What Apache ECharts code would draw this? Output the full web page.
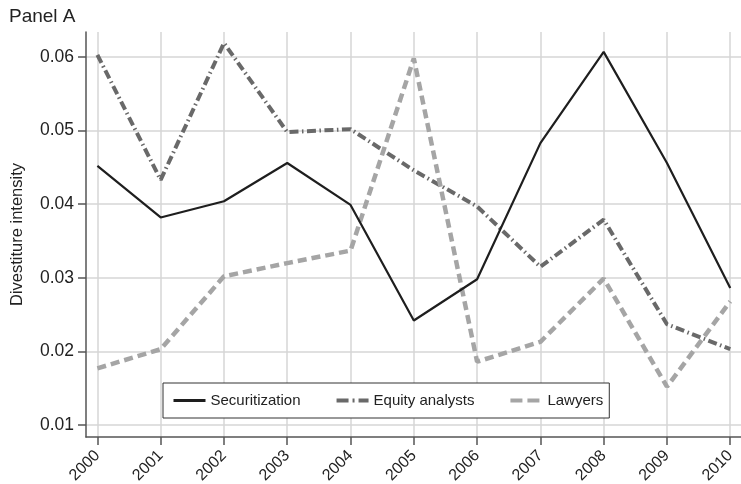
<!DOCTYPE html>
<html>
<head>
<meta charset="utf-8">
<title>Panel A</title>
<script src="https://cdn.jsdelivr.net/npm/echarts@6/dist/echarts.min.js"></script>
<style>
  html, body { margin: 0; padding: 0; background: #fff; }
  #main { width: 741px; height: 484px; }
</style>
</head>
<body>
<div id="main"></div>
<script>
// years on the x axis
var years = [2000, 2001, 2002, 2003, 2004, 2005, 2006, 2007, 2008, 2009, 2010];
var yTicks = [0.01, 0.02, 0.03, 0.04, 0.05, 0.06];

// divestiture intensity
var securitization = [0.0452, 0.0382, 0.0404, 0.0456, 0.0399, 0.0242, 0.0298, 0.0483, 0.0607, 0.0456, 0.0286];
var equityAnalysts = [0.0603, 0.0433, 0.0619, 0.0498, 0.0502, 0.0446, 0.0397, 0.0315, 0.0379, 0.0237, 0.0203];
var lawyers        = [0.0177, 0.0203, 0.0302, 0.0320, 0.0337, 0.0598, 0.0186, 0.0213, 0.0299, 0.0152, 0.0268];

function pairs(vals) {
  return years.map(function (y, i) { return [y, vals[i]]; });
}

var font = 'Liberation Sans, Arial, sans-serif';
var axisGrey = '#555';
var gridGrey = '#d6d6d6';

var chart = echarts.init(document.getElementById('main'));
chart.setOption({
  animation: false,
  backgroundColor: '#fff',
  title: {
    text: 'Panel A',
    left: 4, top: 2,
    textStyle: { fontFamily: font, fontSize: 19, fontWeight: 'normal', color: '#222' }
  },
  grid: { left: 86, right: 0, top: 32, bottom: 47, containLabel: false, outerBoundsMode: 'none' },
  legend: {
    left: 163, top: 383,
    padding: [10, 6, 10, 9],
    backgroundColor: '#fff',
    borderColor: '#333', borderWidth: 1,
    itemWidth: 32, itemHeight: 14, itemGap: 34,
    itemStyle: { opacity: 0 },
    textStyle: { fontFamily: font, fontSize: 15, color: '#222' },
    data: [
      { name: 'Securitization', lineStyle: { width: 3 } },
      { name: 'Equity analysts', lineStyle: { width: 4, type: [12, 4, 2, 4] } },
      { name: 'Lawyers', lineStyle: { width: 4, type: [12, 5] } }
    ]
  },
  xAxis: {
    type: 'value',
    min: 1999.82, max: 2010.17,
    axisLine: { show: true, onZero: false, lineStyle: { color: axisGrey, width: 1.5 } },
    axisTick: { show: true, length: 8, customValues: years, lineStyle: { color: axisGrey, width: 1.5 } },
    axisLabel: {
      customValues: years, rotate: 45, margin: 16,
      fontFamily: font, fontSize: 16, color: '#222',
      formatter: function (v) { return String(v); }
    },
    splitLine: { show: true, lineStyle: { color: gridGrey, width: 1.5 } }
  },
  yAxis: {
    type: 'value',
    min: 0.00837, max: 0.0634,
    name: 'Divestiture intensity',
    nameLocation: 'middle', nameGap: 60,
    nameTextStyle: { fontFamily: font, fontSize: 16.5, color: '#222' },
    axisLine: { show: true, lineStyle: { color: axisGrey, width: 1.5 } },
    axisTick: { show: true, length: 8, customValues: yTicks, lineStyle: { color: axisGrey, width: 1.5 } },
    axisLabel: {
      customValues: yTicks, margin: 12,
      fontFamily: font, fontSize: 17.5, color: '#222',
      formatter: function (v) { return v.toFixed(2); }
    },
    splitLine: { show: true, lineStyle: { color: gridGrey, width: 1.5 } }
  },
  series: [
    {
      name: 'Securitization', type: 'line', data: pairs(securitization),
      symbol: 'none', z: 5,
      color: '#1e1e1e',
      lineStyle: { color: '#1e1e1e', width: 2.2 }
    },
    {
      name: 'Equity analysts', type: 'line', data: pairs(equityAnalysts),
      symbol: 'none', z: 3,
      color: '#696969',
      lineStyle: { color: '#696969', width: 4, type: [9, 3.5, 1.5, 3.5] }
    },
    {
      name: 'Lawyers', type: 'line', data: pairs(lawyers),
      symbol: 'none', z: 4,
      color: '#a5a5a5',
      lineStyle: { color: '#a5a5a5', width: 4.5, type: [9, 5] }
    }
  ]
});
</script>
</body>
</html>
